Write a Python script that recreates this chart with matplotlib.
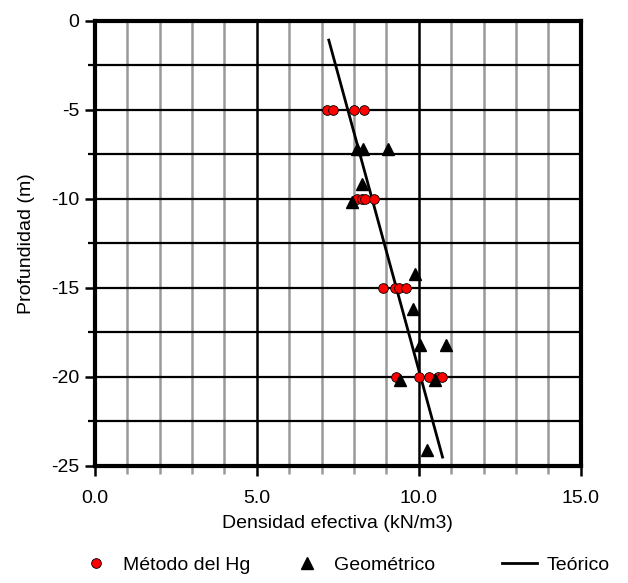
import numpy as np
import matplotlib
matplotlib.use("Agg")
from matplotlib import pyplot as plt
from matplotlib.ticker import MultipleLocator, FormatStrFormatter

plt.rcParams['font.family'] = ['Liberation Sans', 'DejaVu Sans']

# Metodo del Hg (circles)
hg_x = [7.15, 7.35, 8.0, 8.3, 8.1, 8.25, 8.35, 8.6, 8.9, 9.25, 9.4, 9.6, 9.3, 10.0, 10.3, 10.6, 10.7]
hg_y = [-5.0, -5.0, -5.0, -5.0, -10.0, -10.0, -10.0, -10.0, -15.0, -15.0, -15.0, -15.0, -20.0, -20.0, -20.0, -20.0, -20.0]

# Geometrico (triangles)
geo_x = [8.1, 8.27, 9.05, 8.23, 7.95, 9.88, 9.82, 10.03, 10.85, 9.41, 10.49, 10.25]
geo_y = [-7.2, -7.2, -7.2, -9.2, -10.2, -14.2, -16.2, -18.2, -18.2, -20.2, -20.2, -24.1]

# Teorico (line)
teo_x = [7.22, 10.73]
teo_y = [-1.1, -24.5]

fig = plt.figure(figsize=(6.28, 5.83), dpi=100)
ax = fig.add_axes([0.151, 0.2007, 0.774, 0.7641])

ax.set_xlim(0, 15)
ax.set_ylim(-25, 0)

ax.xaxis.set_major_locator(MultipleLocator(5))
ax.xaxis.set_minor_locator(MultipleLocator(1))
ax.yaxis.set_major_locator(MultipleLocator(5))
ax.yaxis.set_minor_locator(MultipleLocator(2.5))
ax.xaxis.set_major_formatter(FormatStrFormatter('%.1f'))
ax.yaxis.set_major_formatter(FormatStrFormatter('%d'))

ax.grid(which='minor', axis='x', color='#999999', linewidth=1.8)
ax.grid(which='major', axis='x', color='black', linewidth=1.8)
ax.grid(which='both', axis='y', color='black', linewidth=1.6)
ax.set_axisbelow(True)

for s in ax.spines.values():
    s.set_linewidth(3)

ax.tick_params(which='major', direction='out', length=7, width=1.8, labelsize=14, pad=4)
ax.tick_params(axis='x', which='major', pad=10)
ax.tick_params(axis='x', which='minor', direction='out', length=6, width=1.8, color='#999999')
ax.tick_params(axis='y', which='minor', direction='out', length=5, width=1.6)

l_teo, = ax.plot(teo_x, teo_y, color='black', linewidth=2, zorder=3)
l_hg, = ax.plot(hg_x, hg_y, linestyle='none', marker='o', markersize=7, markerfacecolor='red',
                markeredgecolor='black', markeredgewidth=0.6, zorder=4)
l_geo, = ax.plot(geo_x, geo_y, linestyle='none', marker='^', markersize=9, color='black', zorder=4)

ax.set_xlabel('Densidad efectiva (kN/m3)', fontsize=14, labelpad=6)
ax.set_ylabel('Profundidad (m)', fontsize=14, labelpad=12)

# legend entries spaced like the original (equal-width columns)
entries = [(l_hg, 'Método del Hg', 78), (l_geo, 'Geométrico', 289), (l_teo, 'Teórico', 502)]
for handle, label, xpix in entries:
    fig.legend([handle], [label], loc='center left', bbox_to_anchor=(xpix / 628, 0.031),
               frameon=False, fontsize=14, handlelength=1.8, handletextpad=0.5,
               borderpad=0, borderaxespad=0)

fig.savefig('out.png', dpi=100)
